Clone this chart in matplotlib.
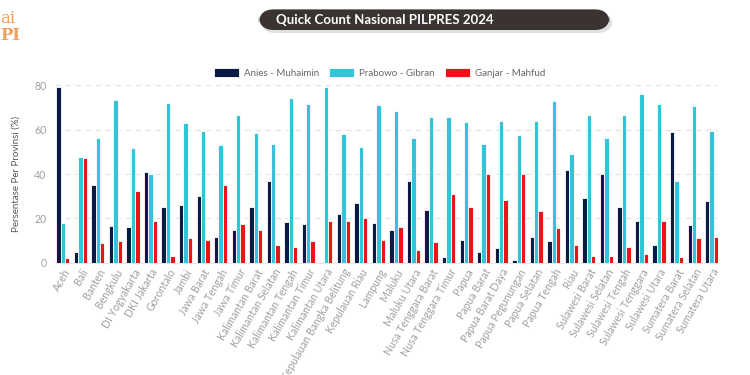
import matplotlib
matplotlib.use('Agg')
import matplotlib.pyplot as plt
from matplotlib.patches import FancyBboxPatch
import numpy as np

provinces = ['Aceh', 'Bali', 'Banten', 'Bengkulu', 'DI Yogyakarta', 'DKI Jakarta',
             'Gorontalo', 'Jambi', 'Jawa Barat', 'Jawa Tengah', 'Jawa Timur',
             'Kalimantan Barat', 'Kalimantan Selatan', 'Kalimantan Tengah',
             'Kalimantan Timur', 'Kalimantan Utara', 'Kepulauan Bangka Belitung',
             'Kepulauan Riau', 'Lampung', 'Maluku', 'Maluku Utara',
             'Nusa Tenggara Barat', 'Nusa Tenggara Timur', 'Papua', 'Papua Barat',
             'Papua Barat Daya', 'Papua Pegunungan', 'Papua Selatan', 'Papua Tengah',
             'Riau', 'Sulawesi Barat', 'Sulawesi Selatan', 'Sulawesi Tengah',
             'Sulawesi Tenggara', 'Sulawesi Utara', 'Sumatera Barat',
             'Sumatera Selatan', 'Sumatera Utara']

anies = [79, 5, 35, 16.5, 16, 41, 25, 26, 30, 11.5, 15, 25, 37, 18.5, 17.5, 0.5,
         22, 27, 18, 15, 37, 24, 2.5, 10.5, 5, 6.5, 1.5, 11.5, 10, 42, 29, 40,
         25, 19, 8, 58.7, 17, 28]
prabowo = [18, 47.5, 56, 73.5, 51.5, 40, 72, 63, 59.5, 53, 66.5, 58.5, 53.5, 74,
           71.5, 79, 58, 52, 71, 68.5, 56, 65.5, 65.5, 63.5, 53.5, 64, 57.5, 64,
           73, 49, 66.5, 56, 66.5, 76, 71.5, 37, 70.5, 59.5]
ganjar = [2, 47, 9, 10, 32.5, 19, 3, 11, 10.5, 35, 17.5, 15, 8, 7, 10, 19, 19,
          20, 10.5, 16, 6, 9.5, 31, 25, 40, 28.5, 40, 23.5, 15.5, 8, 3.3, 3, 7,
          4, 19, 2.7, 11, 11.5]

series = [('Anies - Muhaimin', anies, '#0b1a45'),
          ('Prabowo - Gibran', prabowo, '#35c3da'),
          ('Ganjar - Mahfud', ganjar, '#ec1416')]

gray = '#a0a0a0'
plt.rcParams['font.family'] = ['Lato', 'DejaVu Sans']

fig = plt.figure(figsize=(7.5, 3.75), dpi=100)
ax = fig.add_axes([0.073, 0.299, 0.884, 0.474])

x = np.arange(len(provinces))
w = 0.25
for i, (name, vals, color) in enumerate(series):
    ax.bar(x + (i - 1) * w, vals, width=w, color=color, edgecolor='white',
           linewidth=0.6, label=name, zorder=3)

ax.set_xlim(-0.46, 37.35)
ax.set_ylim(0, 80)
ax.set_yticks([0, 20, 40, 60, 80])
ax.yaxis.grid(True, color='#e2e2e2', linestyle=(0, (5, 4)), linewidth=0.8, zorder=0)
for s in ['top', 'right', 'left']:
    ax.spines[s].set_visible(False)
ax.spines['bottom'].set_color('#e8e8e8')
ax.tick_params(axis='both', length=0, colors=gray, labelsize=7.6)
ax.set_xticks(x)
ax.set_xticklabels(provinces, rotation=60, ha='right', rotation_mode='anchor')
ax.tick_params(axis='x', pad=3)
ax.tick_params(axis='y', pad=6)
ax.set_ylabel('Persentase Per Provinsi (%)', color='#555555', fontsize=7, labelpad=10)

ax.legend(loc='center', bbox_to_anchor=(0.49, 1.068), ncol=3, frameon=False,
          fontsize=7, labelcolor='#666666', handlelength=2.6, handleheight=1.0,
          columnspacing=1.0, handletextpad=0.5)

# title banner with a soft shadow
shadow = FancyBboxPatch((0.347, 0.912), 0.47, 0.055, boxstyle='round,pad=0,rounding_size=0.02',
                        transform=fig.transFigure, facecolor='#cccccc', edgecolor='none',
                        mutation_aspect=2, alpha=0.6)
banner = FancyBboxPatch((0.345, 0.92), 0.468, 0.055, boxstyle='round,pad=0,rounding_size=0.02',
                        transform=fig.transFigure, facecolor='#3a3331', edgecolor='none',
                        mutation_aspect=2)
fig.patches.append(shadow)
fig.patches.append(banner)
fig.text(0.5125, 0.948, 'Quick Count Nasional PILPRES 2024', color='white',
         fontsize=9.5, fontweight='bold', ha='center', va='center')

# logo fragment
fig.text(0.0, 0.95, 'ai', color='#f0a05a', fontsize=12, family='DejaVu Serif',
         ha='left', va='center')
fig.text(0.0, 0.905, 'PI', color='#f0a05a', fontsize=12, family='DejaVu Serif',
         fontweight='bold', ha='left', va='center')

fig.savefig('out.png', dpi=100)
